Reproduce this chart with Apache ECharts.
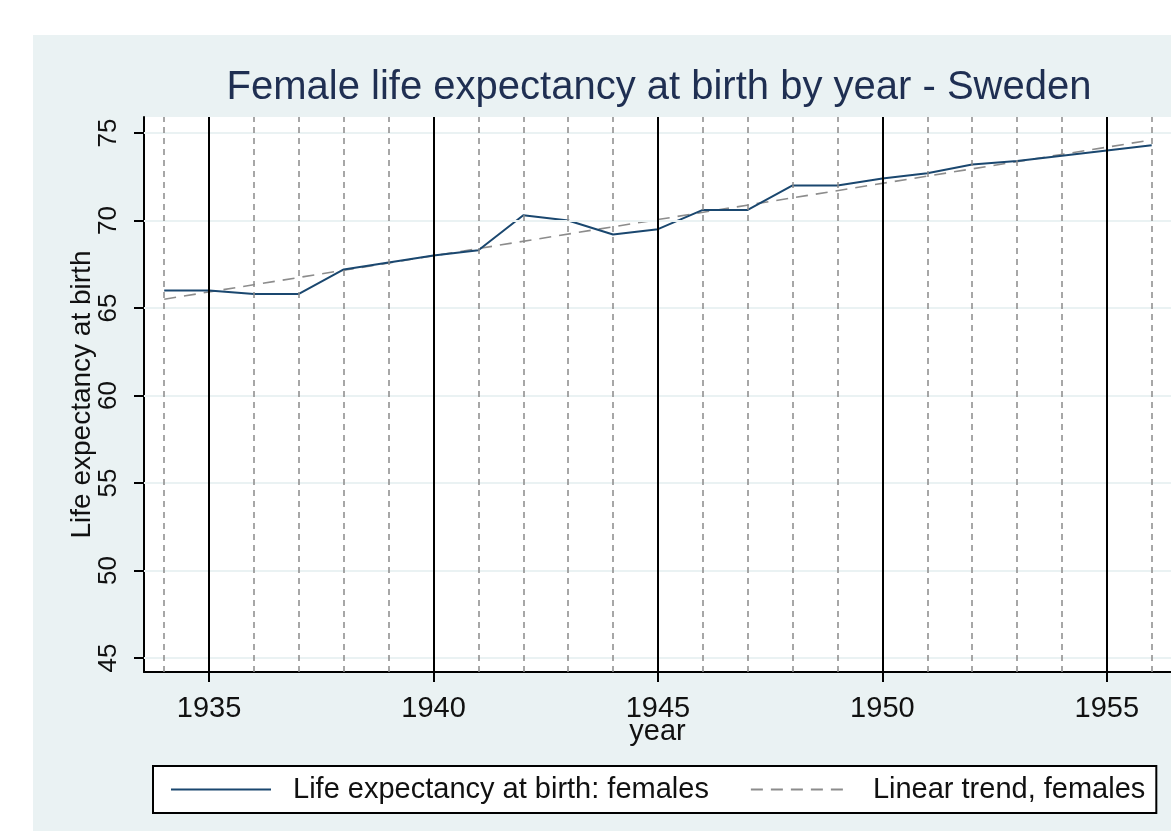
<!DOCTYPE html>
<html>
<head>
<meta charset="utf-8">
<script src="https://cdn.jsdelivr.net/npm/echarts@6/dist/echarts.min.js"></script>
<style>
html,body{margin:0;padding:0;background:#fff;}
#chart{width:1171px;height:831px;}
</style>
</head>
<body>
<div id="chart"></div>
<script>
// ---- data ----
var years = [1934,1935,1936,1937,1938,1939,1940,1941,1942,1943,1944,1945,1946,1947,1948,1949,1950,1951,1952,1953,1954,1955,1956];
var lifeExpFemales = [66.0,66.0,65.8,65.8,67.2,67.6,68.0,68.3,70.3,70.0,69.2,69.5,70.6,70.6,72.0,72.0,72.4,72.7,73.2,73.4,73.7,74.0,74.3];
var trendYears = [1934, 1956];
var trendValues = [65.5, 74.6];
var xTickLabels = [1935,1940,1945,1950,1955];
var yTickLabels = [45,50,55,60,65,70,75];
var titleText = 'Female life expectancy at birth by year - Sweden';
var seriesNames = ['Life expectancy at birth: females', 'Linear trend, females'];

var FONT = 'Liberation Sans, Arial, sans-serif';
var BG = '#eaf2f3';

var minorYears = years.filter(function(y){ return xTickLabels.indexOf(y) < 0; });

var chart = echarts.init(document.getElementById('chart'), null, {renderer:'canvas'});
chart.setOption({
  animation: false,
  textStyle: {fontFamily: FONT},
  graphic: [{
    type: 'rect', z: -10, silent: true,
    shape: {x: 33, y: 35, width: 1171 - 33, height: 831 - 35},
    style: {fill: BG}
  }],
  title: {
    text: titleText,
    left: 654, top: 63, textAlign: 'center',
    textStyle: {fontFamily: FONT, fontSize: 40, fontWeight: 'normal', color: '#1f2f52'}
  },
  grid: {
    left: 144, top: 117, right: 0, bottom: 159,
    show: true, backgroundColor: '#ffffff', borderWidth: 0
  },
  legend: {
    data: seriesNames,
    left: 153, top: 766,
    orient: 'horizontal',
    itemWidth: 100, itemHeight: 20, itemGap: 41,
    padding: [9, 11, 9, 17],
    backgroundColor: '#ffffff',
    borderColor: '#000000', borderWidth: 2, borderRadius: 0,
    itemStyle: {opacity: 0},
    textStyle: {fontFamily: FONT, fontSize: 29, color: '#111111', padding: [0, 0, 0, 17]}
  },
  xAxis: {
    type: 'value',
    min: 1933.55, max: 1956.43,
    name: 'year', nameLocation: 'middle', nameGap: 45, nameMoveOverlap: false,
    nameTextStyle: {fontFamily: FONT, fontSize: 29, color: '#111111'},
    axisLine: {show: true, onZero: false, lineStyle: {color: '#000', width: 2}},
    axisTick: {show: true, length: 10, lineStyle: {color: '#000', width: 2}, customValues: xTickLabels},
    axisLabel: {
      show: true, margin: 22, fontFamily: FONT, fontSize: 29, color: '#111111',
      customValues: xTickLabels,
      formatter: function(v){ return String(v); }
    },
    splitLine: {show: false}
  },
  yAxis: {
    type: 'value',
    min: 44.2, max: 75.91,
    name: 'Life expectancy at birth', nameLocation: 'middle', nameGap: 48, nameRotate: 90, nameMoveOverlap: false,
    nameTextStyle: {fontFamily: FONT, fontSize: 28, color: '#111111'},
    axisLine: {show: true, onZero: false, lineStyle: {color: '#000', width: 2}},
    axisTick: {show: true, length: 10, lineStyle: {color: '#000', width: 2}, customValues: yTickLabels},
    axisLabel: {
      show: true, rotate: 90, margin: 22, fontFamily: FONT, fontSize: 26, color: '#111111',
      customValues: yTickLabels,
      formatter: function(v){ return String(v); }
    },
    splitLine: {show: false}
  },
  series: [
    {
      name: '_hgrid', type: 'line', data: [], z: 1, silent: true,
      markLine: {
        silent: true, symbol: ['none','none'], label: {show: false},
        lineStyle: {color: BG, width: 2, type: 'solid'},
        emphasis: {disabled: true},
        data: yTickLabels.map(function(v){ return {yAxis: v}; })
      }
    },
    {
      name: '_vminor', type: 'line', data: [], z: 2, silent: true,
      markLine: {
        silent: true, symbol: ['none','none'], label: {show: false},
        lineStyle: {color: '#8a8a8a', width: 1.5, type: [6, 5]},
        emphasis: {disabled: true},
        data: minorYears.map(function(v){ return {xAxis: v}; })
      }
    },
    {
      name: '_vmajor', type: 'line', data: [], z: 2, silent: true,
      markLine: {
        silent: true, symbol: ['none','none'], label: {show: false},
        lineStyle: {color: '#000000', width: 2, type: 'solid'},
        emphasis: {disabled: true},
        data: xTickLabels.map(function(v){ return {xAxis: v}; })
      }
    },
    {
      name: seriesNames[1], type: 'line', z: 3,
      data: trendYears.map(function(y, i){ return [y, trendValues[i]]; }),
      showSymbol: false, symbol: 'none',
      lineStyle: {color: '#8c8c8c', width: 1.6, type: [12, 8]},
      itemStyle: {color: '#8c8c8c'}
    },
    {
      name: seriesNames[0], type: 'line', z: 4,
      data: years.map(function(y, i){ return [y, lifeExpFemales[i]]; }),
      showSymbol: false, symbol: 'none',
      lineStyle: {color: '#1a476f', width: 2},
      itemStyle: {color: '#1a476f'}
    }
  ]
});
</script>
</body>
</html>
